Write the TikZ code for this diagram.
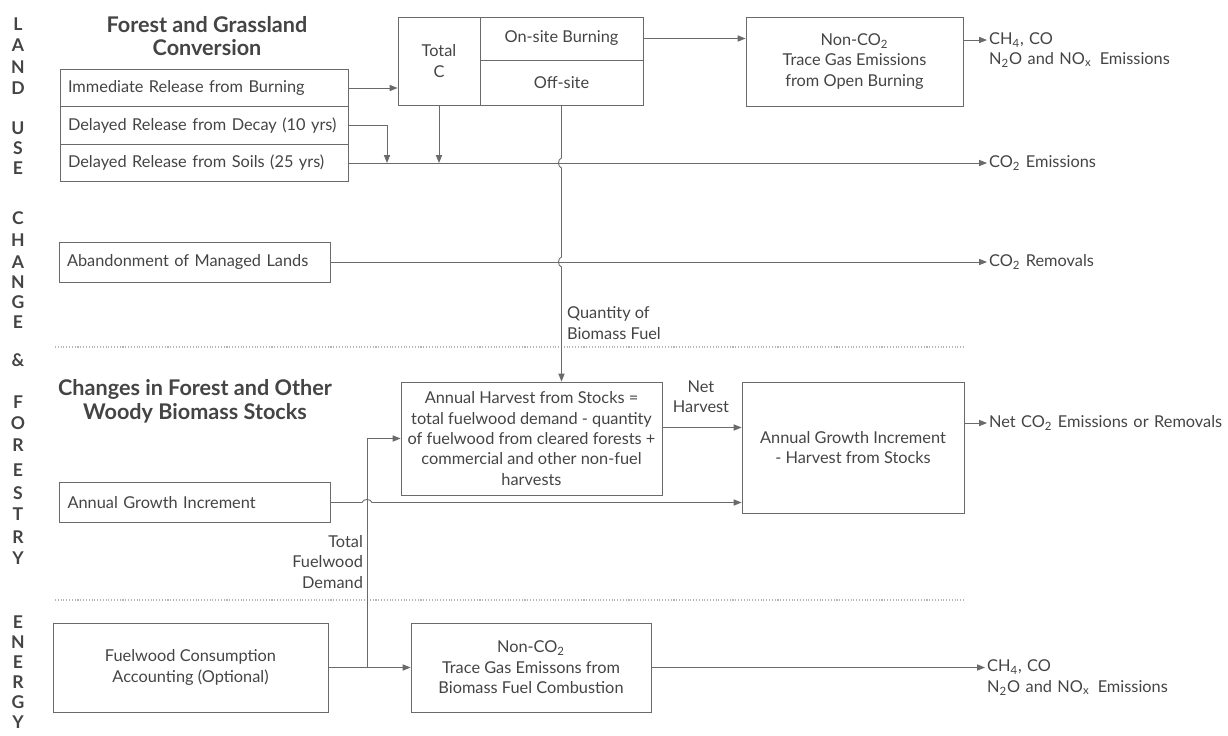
\documentclass[tikz,border=0pt]{standalone}
\usepackage{fontspec}
\setmainfont{Lato}
\usetikzlibrary{arrows.meta,calc,positioning}
\definecolor{ink}{HTML}{444444}
\definecolor{wire}{HTML}{6A6A6A}
\tikzset{box/.style={draw=wire,line width=0.5pt,inner sep=2pt,align=center,text=ink},
stack/.style={box,minimum width=5.76cm,minimum height=0.75cm,text width=5.44cm,align=left,inner xsep=0.16cm},
wide/.style={box,minimum width=5.42cm,minimum height=0.8cm,text width=5.1cm,align=left,inner xsep=0.16cm},
outl/.style={anchor=mid west,text width=6cm,align=left,inner sep=1pt,text=ink},
lbl/.style={inner sep=1pt,text=ink},
ttl/.style={align=center,text=ink,font=\bfseries\fontsize{12.3}{13.5}\selectfont},
side/.style={text=ink,inner sep=0pt,font=\bfseries\fontsize{10}{10}\selectfont},
arr/.style={draw=wire,line width=0.5pt,-{Triangle[length=4.5pt,width=3.5pt]}},
sep/.style={draw=wire!50,line width=0.6pt,densely dotted}}
\begin{document}
\begin{tikzpicture}[x=0.02cm,y=-0.02cm,font=\fontsize{9.3}{11.6}\selectfont]
\useasboundingbox (0,0) rectangle (1228,735);
% side caption
\foreach \c/\y in {L/24,A/45,N/67,D/88,U/128,S/148,E/168,C/218,H/240,A/262,N/282,G/302,E/322,\&/360,F/402,O/423,R/445,E/470,S/493,T/514,R/537,Y/558,E/622,N/642,E/662,R/682,G/702,Y/722}
  \node[side] (s\y) at (18,\y) {\c};
% land use change
\node[ttl] (fgc) at (207,36) {Forest and Grassland\\Conversion};
\node[stack] (imm) at (204,88) {Immediate Release from Burning};
\node[stack] (decay) at (204,125.5) {Delayed Release from Decay (10 yrs)};
\node[stack] (soils) at (204,163) {Delayed Release from Soils (25 yrs)};
\node[box,minimum width=1.64cm,minimum height=1.76cm] (totc) at (439,61) {Total\\C};
\node[box,minimum width=3.26cm,minimum height=0.86cm] (onsite) at (561.5,38.5) {On-site Burning};
\node[box,minimum width=3.26cm,minimum height=0.9cm] (offsite) at (561.5,82.5) {Off-site};
\node[box,minimum width=4.34cm,minimum height=1.78cm] (burn) at (854.5,61.5) {Non-CO\textsubscript{2}\\Trace Gas Emissions\\from Open Burning};
\node[outl] (gas1) at (987,40) {CH\textsubscript{4}, CO\\N\textsubscript{2}O and NO\textsubscript{x}\, Emissions};
\node[outl] (co2e) at (987,163) {CO\textsubscript{2} Emissions};
\node[wide] (aband) at (194.5,262) {Abandonment of Managed Lands};
\node[outl] (co2r) at (987,262) {CO\textsubscript{2} Removals};
\node[lbl,anchor=west,align=left] (qbf) at (565,323) {Quantity of\\Biomass Fuel};
% forest and woody biomass
\node[ttl] (cfw) at (195,401.5) {Changes in Forest and Other\\Woody Biomass Stocks};
\node[box,minimum width=5.22cm,minimum height=2.26cm] (harvest) at (531.5,438.5) {Annual Harvest from Stocks =\\total fuelwood demand - quantity\\of fuelwood from cleared forests +\\commercial and other non-fuel\\harvests};
\node[lbl,align=center] (nh) at (701,397) {Net\\Harvest};
\node[box,minimum width=4.44cm,minimum height=2.62cm] (growth) at (853,447.5) {Annual Growth Increment\\- Harvest from Stocks};
\node[outl] (netout) at (987,423) {Net CO\textsubscript{2} Emissions or Removals};
\node[wide] (agi) at (195,502.5) {Annual Growth Increment};
\node[lbl,anchor=east,align=right] (tfd) at (365,562) {Total\\Fuelwood\\Demand};
% energy
\node[box,minimum width=5.5cm,minimum height=1.78cm] (fca) at (190.5,667.5) {Fuelwood Consumption\\Accounting (Optional)};
\node[box,minimum width=4.8cm,minimum height=1.78cm] (bio) at (531,667.5) {Non-CO\textsubscript{2}\\Trace Gas Emissons from\\Biomass Fuel Combustion};
\node[outl] (gas2) at (985,667.5) {CH\textsubscript{4}, CO\\N\textsubscript{2}O and NO\textsubscript{x}\, Emissions};
\draw[sep] (55,347) -- (964,347);
\draw[sep] (55,600) -- (964,600);
\coordinate (j1) at (387,163);
\coordinate (x1) at (offsite.south |- soils.east);
\coordinate (x2) at (offsite.south |- aband.east);
\coordinate (jn) at (367,667.5);
\coordinate (x3) at (jn |- agi.east);
\draw[arr] (imm.east) -- (imm.east -| totc.west);
\draw[arr] (onsite.east) -- (onsite.east -| burn.west);
\draw[arr] (gas1.mid west -| burn.east) -- (gas1.mid west);
\draw[arr] (decay.east) -| (j1);
\draw[arr] (totc.south) -- (totc.south |- soils.east);
\draw[arr] (soils.east) -- (co2e.mid west);
\draw[arr] (aband.east) -- (co2r.mid west);
\draw[arr] (offsite.south) -- ($(x1)+(0,-5)$) .. controls ($(x1)+(-4,-4)$) and ($(x1)+(-4,4)$) .. ($(x1)+(0,5)$)
  -- ($(x2)+(0,-5)$) .. controls ($(x2)+(-4,-4)$) and ($(x2)+(-4,4)$) .. ($(x2)+(0,5)$) -- (offsite.south |- harvest.north);
\draw[arr] ($(harvest.east)+(0,-11)$) -- ($(harvest.east -| growth.west)+(0,-11)$);
\draw[arr] (agi.east) -- ($(x3)+(-5,0)$) .. controls ($(x3)+(-4,-4)$) and ($(x3)+(4,-4)$) .. ($(x3)+(5,0)$) -- (agi.east -| growth.west);
\draw[arr] (netout.mid west -| growth.east) -- (netout.mid west);
\draw[arr] (fca.east) -- (bio.west);
\draw[arr] (jn) |- (harvest.west);
\draw[arr] (bio.east) -- (gas2.mid west);
\end{tikzpicture}
\end{document}
